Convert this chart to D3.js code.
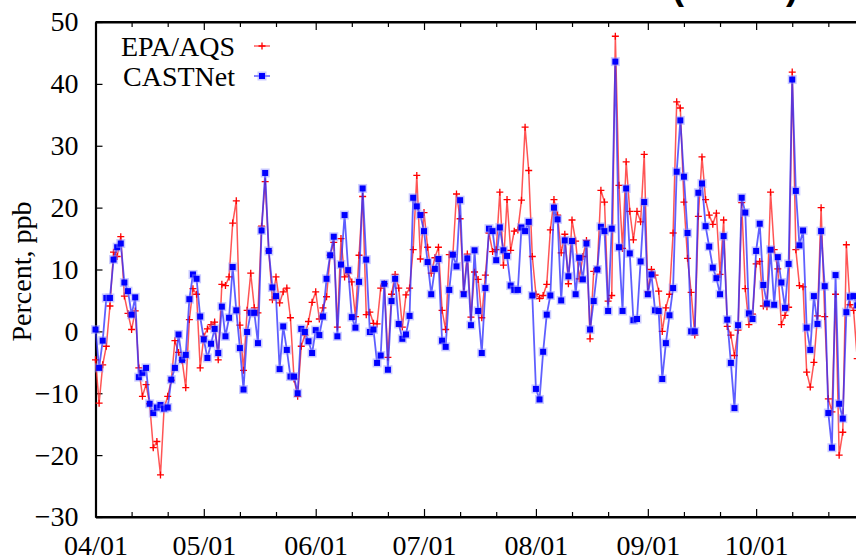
<!DOCTYPE html>
<html><head><meta charset="utf-8">
<script src="https://cdn.jsdelivr.net/npm/d3@7"></script>
<style>
html,body{margin:0;padding:0;background:#fff;}
svg{display:block;}
text{font-family:"Liberation Serif","Times New Roman",serif;}
</style></head>
<body>
<svg id="chart" width="856" height="559"></svg>
<script>
// ---- data ----
const startDate = "04/01";
const seriesNames = ["EPA/AQS", "CASTNet"];
const xTickLabels = ["04/01","05/01","06/01","07/01","08/01","09/01","10/01"];
const xTickDays = [0, 30, 61, 91, 122, 153, 183];
const xMinorDays = [10, 20, 40, 50, 71, 81, 101, 111, 132, 142, 163, 173, 193, 203];
const yTickValues = [-30, -20, -10, 0, 10, 20, 30, 40, 50];

const epaAqs = [
 -4.6,-11.6,-5.4,-2.4,4.1,12.8,12.1,15.3,5.7,2.9,
 0.3,3.3,-5.9,-10.5,-8.6,-11.7,-18.8,-17.8,-23.2,-12.4,
 -10.5,-7.9,-1.5,-3.4,-4.7,-9.1,1.9,6.9,6.0,-5.9,
 -0.8,0.4,1.1,1.5,-4.6,7.6,7.4,8.8,17.5,21.1,
 1.0,-6.3,3.4,9.4,3.8,3.0,17.0,24.2,13.0,5.1,
 8.8,4.6,6.4,7.0,2.2,-7.7,-10.5,-2.4,-0.6,1.6,
 4.7,6.4,2.0,3.8,5.6,12.3,14.4,0.7,15.0,8.8,
 9.4,8.0,2.4,12.3,21.8,2.7,3.1,1.3,1.2,7.0,
 7.7,-4.2,6.0,9.2,7.0,0.7,5.9,7.0,13.2,25.2,
 11.7,19.2,13.6,9.4,11.9,13.6,3.4,0.3,12.4,12.4,
 22.2,18.2,6.4,12.5,2.3,9.6,8.4,2.2,9.1,15.9,
 12.9,13.2,22.5,10.7,21.3,13.1,16.2,16.4,21.2,33.0,
 26.0,12.1,6.0,5.3,5.8,7.6,16.4,21.3,18.8,12.7,
 15.7,7.7,18.0,14.6,8.5,12.1,14.7,-1.2,9.7,10.1,
 22.8,20.9,4.9,5.8,47.7,23.6,13.4,27.4,19.4,14.8,
 19.4,17.7,28.6,6.4,10.0,9.1,6.5,0.0,3.8,6.0,
 15.9,37.1,36.1,20.9,11.8,6.3,-0.6,18.6,28.2,21.3,
 18.8,17.3,19.1,9.2,18.0,0.8,-0.6,-3.9,0.2,20.8,
 6.9,1.1,2.8,10.9,11.3,4.1,4.0,22.5,13.2,10.1,
 1.1,2.6,3.9,41.9,13.2,7.4,7.2,-6.6,-9.0,-5.0,
 2.5,20.0,2.4,-10.9,-13.0,6.0,-20.0,-16.3,14.0,4.3,
 3.4,-4.4
];
const castnet = [
 0.3,-5.9,-1.5,5.4,5.4,11.6,13.6,14.2,7.9,6.5,
 2.7,5.5,-7.4,-6.7,-5.9,-11.7,-13.2,-12.3,-11.9,-12.5,
 -12.3,-7.8,-5.9,-0.5,-4.6,-3.8,5.2,9.2,8.5,2.4,
 -1.3,-4.3,-2.0,0.4,-3.5,4.0,-0.8,2.2,10.4,3.4,
 -2.7,-9.4,-0.1,3.0,3.0,-1.9,16.3,25.6,13.0,7.1,
 5.7,-6.1,0.8,-3.0,-7.3,-7.3,-10.0,0.4,-0.1,-1.6,
 -3.5,0.2,-0.6,2.4,8.5,12.3,15.3,-0.8,10.8,18.8,
 9.9,2.3,0.6,8.0,23.1,11.6,-0.1,0.3,-5.1,-3.9,
 7.7,-6.2,4.9,8.5,1.2,-1.2,-0.5,2.5,21.6,20.2,
 18.8,16.2,11.2,6.0,10.1,11.7,-1.5,-2.5,6.7,12.4,
 10.5,21.2,6.0,11.8,1.0,13.1,3.3,-3.5,7.0,16.6,
 16.2,11.5,16.8,13.1,12.2,7.4,6.7,6.7,16.8,16.2,
 17.7,5.8,-9.3,-11.0,-3.3,2.7,5.8,20.0,18.1,5.0,
 14.7,8.9,14.6,6.0,11.9,8.4,14.2,0.3,4.9,10.0,
 16.9,16.2,3.3,16.6,43.6,13.6,3.3,23.1,12.6,1.8,
 2.0,11.3,20.9,6.0,9.2,3.4,3.3,-7.7,-1.9,2.6,
 7.0,25.8,34.1,25.0,15.9,0.0,0.0,22.4,23.9,17.0,
 13.7,10.3,8.6,6.0,15.4,1.9,-5.1,-12.4,1.0,21.6,
 19.2,2.9,2.0,13.0,17.4,7.5,4.5,13.2,4.3,12.0,
 7.9,3.8,10.9,40.7,22.7,13.9,16.3,0.6,-3.0,5.7,
 1.2,16.2,7.3,-13.2,-18.8,9.1,-11.7,-14.1,3.1,5.6,
 5.7,4.2
];

// ---- chart ----
const svg = d3.select("#chart");
const x0 = 95.5, pxPerDay = 3.61, lastDay = 213;
const x = d3.scaleLinear().domain([0, lastDay]).range([x0, x0 + lastDay * pxPerDay]);
const y = d3.scaleLinear().domain([-30, 50]).range([517, 22]);

const fontSize = 28;

// title (cut off at the top, as in the source picture)
svg.append("text")
  .attr("x", 672).attr("y", -1)
  .attr("textLength", 126)
  .style("font-family", "'Liberation Sans',Arial,sans-serif")
  .style("font-weight", "bold").style("font-size", "36px")
  .text("(2011)");

// axes: left
const gLeft = svg.append("g").attr("transform", `translate(${x0},0)`)
  .call(d3.axisLeft(y).tickValues(yTickValues).tickFormat(d3.format("d"))
    .tickSizeInner(-7).tickSizeOuter(0).tickPadding(17));
// bottom
const gBottom = svg.append("g").attr("transform", `translate(0,${y(-30)})`)
  .call(d3.axisBottom(x).tickValues(xTickDays).tickFormat((d, i) => xTickLabels[i])
    .tickSizeInner(-8).tickSizeOuter(0).tickPadding(18));
const gBottomMinor = svg.append("g").attr("transform", `translate(0,${y(-30)})`)
  .call(d3.axisBottom(x).tickValues(xMinorDays).tickFormat("")
    .tickSizeInner(-5).tickSizeOuter(0));
// top
const gTop = svg.append("g").attr("transform", `translate(0,${y(50)})`)
  .call(d3.axisTop(x).tickValues(xTickDays).tickFormat("")
    .tickSizeInner(-8).tickSizeOuter(0));
const gTopMinor = svg.append("g").attr("transform", `translate(0,${y(50)})`)
  .call(d3.axisTop(x).tickValues(xMinorDays).tickFormat("")
    .tickSizeInner(-5).tickSizeOuter(0));

[gLeft, gBottom, gBottomMinor, gTop, gTopMinor].forEach(g => {
  g.select(".domain").attr("stroke", "#000").attr("stroke-width", 2.2);
  g.selectAll(".tick line").attr("stroke", "#000").attr("stroke-width", 1.2);
  g.selectAll(".tick text").attr("fill", "#000")
    .style("font-family", "'Liberation Serif','Times New Roman',serif")
    .style("font-size", fontSize + "px");
});
gBottom.select(".domain").attr("d", `M${x0},0H${x(lastDay)}`);
gTop.select(".domain").attr("d", `M${x0},0H${x(lastDay)}`);

// y-axis title
svg.append("text")
  .attr("transform", `translate(31,${y(10) + 2}) rotate(-90)`)
  .attr("text-anchor", "middle")
  .style("font-size", fontSize + "px")
  .text("Percent, ppb");

// series
const red = "#ff0000", blue = "#0000ff";
const line = d3.line().x((d, i) => x(i)).y(d => y(d));
const plot = svg.append("g");

function drawPlus(g, cx, cy, s) {
  g.append("path").attr("d", `M${cx - s},${cy}H${cx + s}M${cx},${cy - s}V${cy + s}`)
    .attr("stroke", red).attr("stroke-width", 1.3).attr("fill", "none");
}
function drawBox(g, cx, cy) {
  g.append("rect").attr("x", cx - 4.5).attr("y", cy - 4.5).attr("width", 9).attr("height", 9)
    .attr("fill", "#8c8cff").attr("opacity", 0.45);
  g.append("rect").attr("x", cx - 3).attr("y", cy - 3).attr("width", 6).attr("height", 6)
    .attr("fill", blue);
}

// EPA/AQS
plot.append("path").datum(epaAqs).attr("d", line)
  .attr("fill", "none").attr("stroke", "#ff2a2a").attr("stroke-width", 1.5).attr("stroke-opacity", 0.8);
const gRed = plot.append("g");
epaAqs.forEach((v, i) => drawPlus(gRed, x(i), y(v), 3.5));

// CASTNet
plot.append("path").datum(castnet).attr("d", line)
  .attr("fill", "none").attr("stroke", "#2a2aff").attr("stroke-width", 1.8).attr("stroke-opacity", 0.75);
const gBlue = plot.append("g");
castnet.forEach((v, i) => drawBox(gBlue, x(i), y(v)));

// legend
const leg = svg.append("g");
const legY = [46, 76];
seriesNames.forEach((name, k) => {
  leg.append("text").attr("x", 235).attr("y", legY[k]).attr("dy", "0.35em")
    .attr("text-anchor", "end").style("font-size", fontSize + "px").text(name);
  leg.append("line").attr("x1", 254).attr("x2", 270).attr("y1", legY[k]).attr("y2", legY[k])
    .attr("stroke", k === 0 ? "#ff2a2a" : "#2a2aff").attr("stroke-width", 1.4).attr("stroke-opacity", 0.8);
  if (k === 0) drawPlus(leg, 262, legY[k], 3.5); else drawBox(leg, 262, legY[k]);
});
</script>
</body></html>
